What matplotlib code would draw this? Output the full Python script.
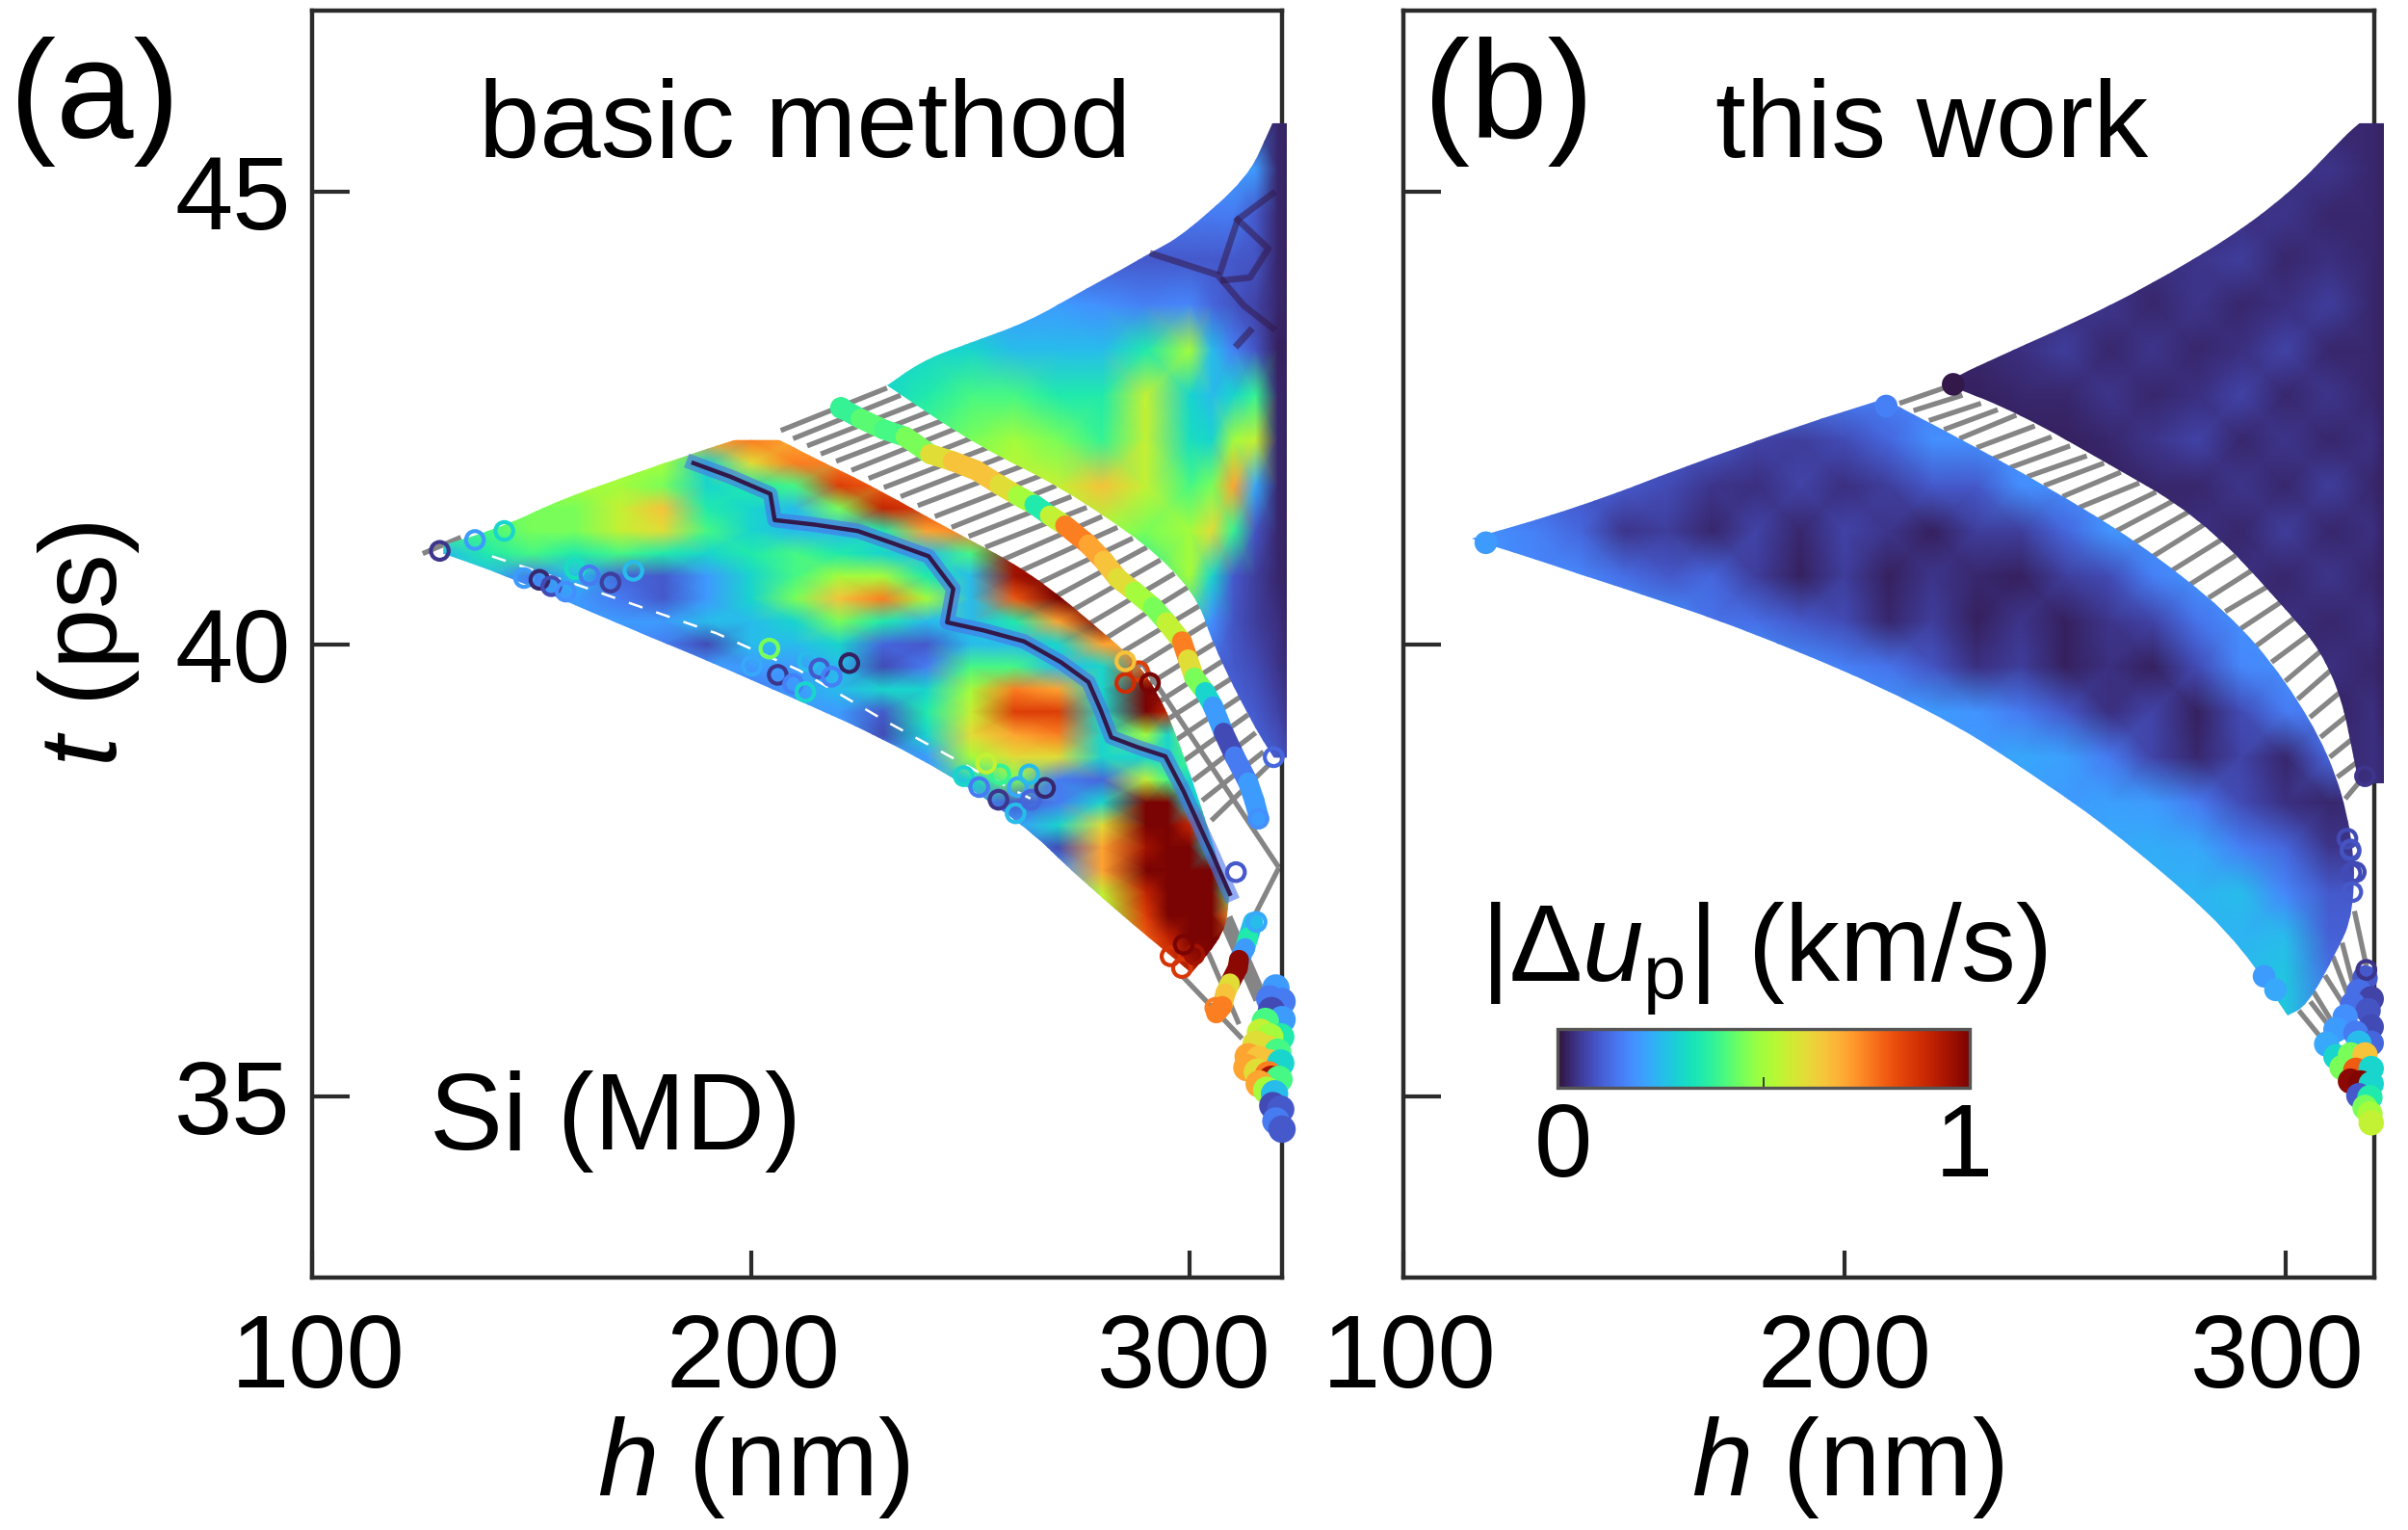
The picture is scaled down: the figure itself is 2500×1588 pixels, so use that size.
import numpy as np
import matplotlib
matplotlib.use("Agg")
import matplotlib.pyplot as plt
from matplotlib.patches import PathPatch
from matplotlib.path import Path
from matplotlib.collections import LineCollection
from matplotlib.cm import ScalarMappable
from matplotlib.colors import Normalize
from matplotlib.transforms import ScaledTranslation

plt.rcParams['font.family'] = ['Liberation Sans', 'DejaVu Sans']
plt.rcParams['mathtext.fontset'] = 'custom'
plt.rcParams['mathtext.rm'] = 'Liberation Sans'
plt.rcParams['mathtext.it'] = 'Liberation Sans:italic'
plt.rcParams['mathtext.default'] = 'regular'

# ---------- values; |du_p| in units of 0.1 km/s ----------
a_main_h = [130,140,150,160,170,180,190,200,210,220,230,240,250,260,270,280,290,295,300,305,310,315]
a_main_t = [42.25,42,41.75,41.5,41.25,41,40.75,40.5,40.25,40,39.75,39.5,39.25,39,38.75,38.5,38.25,38,37.75,37.5,37.25,37,36.75,36.5,36.25]
a_main_v = [
[5,5,5,5,5,5,7,7.5,7,7,7,7,7,7,7,7,7,7,7,7,7,7],
[5,5,5,5,5,5,3,6,7.5,7.5,7.5,7.5,7.5,7.5,7.5,7.5,7.5,7.5,7.5,7.5,7.5,7.5],
[5,5,5,5,5,4.5,3,3.5,4,8.5,8,8,8,8,8,8,8,8,8,8,8,8],
[4.5,4.5,4.5,4.5,5.5,6.5,3.5,3,2.5,4.5,9,8.5,8,8,8,8,8,8,8,8,8,8],
[4,4,4.5,4.5,5.5,6,4,3,2.5,2.5,3.5,7,7.5,7.5,7.5,7.5,7.5,7.5,7.5,7.5,7.5,7.5],
[2.5,3.5,4,3.5,4,3.5,3,3.5,4,3.5,3,2.5,4,9.5,9.5,9,9,9,9,9,9,9],
[2.5,2.5,1.5,2.5,1.2,1,2,3,4,5,5,3.5,2.5,9.5,10,9.5,9,9,9,9,9,9],
[2,2,2,2,1.5,1,2,3,4.5,6.5,7.5,5,2.5,8,10,10,8,8,8,8,8,8],
[2,2,2,2,2,2,2.5,2.5,3,4.5,3.5,2.5,2.5,3.5,7,10,8,8,8,8,8,8],
[2,2,2,2,2,1.5,.8,2.5,2.5,3,1.2,1,2.5,2.5,3,7,7,7,7,7,7,7],
[2,2,2,2,2,2,2,2,2,2.5,.8,1.5,4,4,2.5,3,8,8,8,8,8,8],
[2,2,2,2,2,2,2,1.5,2,2.5,3,3,5,7.5,7,3,10,10,8,8,8,8],
[2,2,2,2,2,2,2,2,2,2,1,3.5,5.5,8.5,8.5,3,10,9,4,4,4,4],
[2,2,2,2,2,2,2,2,2,2,.8,3,6,7,7.5,3,5,3,5,5,5,5],
[2,2,2,2,2,2,2,2,2,2,2,2,5,6,6,3,3,3,4,3,3,3],
[2,2,2,2,2,2,2,2,2,2,2,2,3,4.5,1.5,1.2,5.5,4,3,3,3,3],
[2,2,2,2,2,2,2,2,2,2,2,2,2,1,1.5,3,10,10,3,3,3,3],
[2,2,2,2,2,2,2,2,2,2,2,2,2,2,3,6,10,10,9,3,2,2],
[2,2,2,2,2,2,2,2,2,2,2,2,2,2,.8,7,9.5,10,10,3,2,2],
[2,2,2,2,2,2,2,2,2,2,2,2,2,2,2,7,10,10,10,10,3,2],
[2,2,2,2,2,2,2,2,2,2,2,2,2,2,2,5.5,9,10,10,10,4,4],
[2,2,2,2,2,2,2,2,2,2,2,2,2,2,2,5,8.5,10,10,10,7,7],
[2,2,2,2,2,2,2,2,2,2,2,2,2,2,2,5,8,9,10,10,10,10],
[2,2,2,2,2,2,2,2,2,2,2,2,2,2,2,5,8,8.5,9.5,10,10,10],
[2,2,2,2,2,2,2,2,2,2,2,2,2,2,2,5,8,8.5,8.5,8.5,8.5,8.5],
]
a_main_edge_h = [127,127,141,156.7,176,193.5,203,203,214.5,230.3,246,263.6,281,291,298.6,309,309,308,300.4,300.4,274,261.8,239,204,169,144.5]
a_main_edge_t = [41.05,41.05,41.25,41.6,41.93,42.22,42.34,42.34,42.05,41.68,41.25,40.8,40.1,39.65,38.8,37.2,37.2,36.8,36.36,36.36,37.44,38.03,38.75,39.53,40.24,40.75]

a_vein_h = [186.9,195.3,204.4,205.4,214.5,224.3,232,240.5,246.1,244.7,253.1,262.2,270.6,276.9,279.7,282.1,288.1,294.4,298.6,302.1,305.3,309.1]
a_vein_t = [42,41.85,41.66,41.37,41.32,41.25,41.12,40.97,40.61,40.24,40.15,40.03,39.8,39.58,39.27,38.97,38.86,38.76,38.37,38,37.66,37.24]

a_up_h = [230,240,250,260,270,280,290,300,305,310,315,320,323]
a_up_t = [45.75,45.25,44.75,44.25,43.75,43.25,42.75,42.25,41.75,41.25,40.75,40.25,39.75,39.25,38.75]
a_up_v = [
[.4,.4,.4,.4,.4,.4,.4,.4,.4,.4,.4,.3,.2],
[2,2,2,2,2,2,2,2,2,2,2,.3,.2],
[1.5,1.5,1.5,1.5,1.5,1.5,1.5,1.5,1.5,1.5,1,.3,.2],
[1,1,1,1,1,1,1,1,1,1,.9,.3,.2],
[2,2,2,2,2,1.8,1.6,1.7,1.2,.9,.7,.3,.2],
[3,3,3,2.5,2.5,2.5,3.5,5,2.5,1.6,.9,.2,.2],
[3,3.5,4,4,3.5,3.5,5.5,3,2.5,3,3.8,.3,.2],
[4,4,4.5,5,4.5,3.8,5.5,3.2,3,5,5.5,.3,.2],
[5,5,5,5.5,5.5,6.5,5.5,4,4.5,7,2.2,.3,.2],
[5,5,5,5,5,5,4.5,5,6,3.8,.9,.3,.2],
[3.5,3.5,3.5,3.5,3.5,3.5,3.5,5,3,1,.6,.3,.2],
[3,3,3,3,3,3,3,3,1.8,.9,.6,.4,.2],
[1.5,1.5,1.5,1.5,1.5,1.5,1.5,1.5,1.2,1,.8,.5,.3],
[1.5,1.5,1.5,1.5,1.5,1.5,1.5,1.5,1.5,1.2,1,.7,.4],
[1.5,1.5,1.5,1.5,1.5,1.5,1.5,1.5,1.5,1.5,1.2,1,.7],
]
a_up_edge_h = [231,231,238,248.5,263.2,276.2,291.6,299.6,313,317.9,319.6,322,322,322,322,320,320,314.4,305.3,301,290.2,271.6,251.3]
a_up_edge_t = [42.86,42.86,43.10,43.31,43.56,43.92,44.34,44.56,45.15,45.66,45.85,45.85,45.85,38.68,38.68,38.68,38.68,39.1,40,40.58,41.1,41.71,42.2]

a_lat1_h = [291.6,306.3,312.3,318.9]
a_lat1_t = [44.31,44.08,43.74,43.49]
a_lat2_h = [307,310.9,318.9]
a_lat2_t = [44.12,44.69,44.98]
a_lat3_h = [310.9,317.9,313.7,307.7]
a_lat3_t = [44.69,44.37,44.05,44.02]
a_lat4_h = [310.9,313.7]
a_lat4_t = [43.31,43.46]

a_rib_h = [220.5,225,230.3,235.2,240.8,246,251.3,256.6,260.8,264.6,268.1,271.6,276.9,280.4,283.5,287.4,291.6,294.7,298.2,299.6,301,303.5,305.3,307.7,310.2,313.3,314.7,315.8]
a_rib_t = [42.61,42.49,42.37,42.29,42.10,42.02,41.92,41.76,41.64,41.54,41.42,41.31,41.10,40.92,40.73,40.58,40.41,40.24,40.03,39.83,39.63,39.47,39.31,39.02,38.76,38.47,38.27,38.07]
a_rib_v = [3.8,4.2,4,4.5,6,6.5,6.5,6,5,3.5,5.5,7.5,7,6.5,6,5,4.5,5.5,7.5,6,4.5,3,2,.8,1.5,2,2,2]

a_low_h = [314.4,313.3,312.6,311.2,310.9,309.1,308.1,307.4,306]
a_low_t = [36.93,36.76,36.64,36.51,36.42,36.25,36.14,36,35.92]
a_low_v = [2.5,3.5,2,9.8,9.8,6,6.5,7.5,8]

a_clu_h = [319.6,318.2,321,318.6,321,317.2,316.1,320.7,318.2,315.1,317.6,320,313.3,315.8,318.2,320.7,313,315.4,317.9,318.6,320.3,315.8,317.5,319.3,318.9,320.7,319.6,321]
a_clu_t = [36.2,36.08,36.05,35.95,35.85,35.83,35.71,35.66,35.66,35.58,35.53,35.49,35.44,35.41,35.37,35.37,35.32,35.27,35.24,35.19,35.19,35.14,35.07,35.03,34.9,34.86,34.73,34.64]
a_clu_v = [2,1.5,1.5,.8,2,4,5.5,3.5,5,6,6,4,7,6.5,6.5,3,7,6,7.5,9.5,4,7,5,2.5,.8,1,1.5,1]

a_open_h = [129.1,137.1,143.8,148.3,151.8,154.5,157.8,159.9,163.2,168,173.2,200.2,206.1,209.6,212.4,213,215.6,218.4,222.4,204.2,248.5,252,256.4,260.3,260.8,263.8,267,256.8,253.6,263.4,288.4,285.3,285.3,290.9,310.5,315.2,315.6,319.1,298.2,295.6,301,298.6,305.8,220.5]
a_open_t = [41.03,41.15,41.25,40.73,40.71,40.64,40.58,40.83,40.76,40.68,40.81,39.76,39.66,39.56,39.47,39.81,39.73,39.64,39.79,39.95,38.54,38.42,38.28,38.13,38.42,38.28,38.41,38.56,38.68,38.56,39.7,39.57,39.81,39.57,37.48,36.93,38.07,38.75,36.42,36.55,36.57,36.68,35.98,42.61]
a_open_v = [.5,2,3,2,.3,.8,1.8,3.2,1.5,.6,2.5,2.2,.5,1.6,3,2.5,1,1.6,.2,4.5,3,1.5,.5,2.5,2.2,1.2,.3,3.8,5.5,2.5,8.5,8.8,6.5,10,1,2.2,1.8,1.2,8.6,8.7,9.5,10,7.5,3.8]

a_hatch = [
(206.8,42.36,231,42.83),(209.6,42.27,234.1,42.75),(212.8,42.19,237.7,42.66),(215.9,42.1,241.2,42.58),
(219.4,42.02,244.7,42.49),(222.9,41.92,248.2,42.41),(226.8,41.83,252,42.31),(230.3,41.73,255.5,42.2),
(234.1,41.63,259,42.1),(238,41.53,262.5,41.98),(241.9,41.41,266,41.86),(245.7,41.29,269.5,41.75),
(249.6,41.19,273,41.63),(253.4,41.07,276.5,41.51),(257.3,40.93,280,41.41),(261.1,40.8,283.5,41.29),
(265,40.66,287,41.17),(268.8,40.51,290.2,41.07),(272.7,40.36,293.3,40.93),(276.2,40.2,296.5,40.78),
(279.7,40.03,299.6,40.63),(282.8,39.86,302.1,40.42),(286,39.69,304.2,40.24),(289.1,39.51,306.3,40.03),
(291.6,39.32,308,39.83),(294,39.14,309.8,39.63),(296.5,38.93,311.6,39.42),(298.6,38.71,313.3,39.22),
(300.7,38.49,315,39.02),(302.8,38.27,316.8,38.81),(304.9,38.05,318.3,38.68),
(289.3,39.78,320.3,37.53),(320.3,37.53,314,36.93),(298.5,36.32,311.9,35.64),(304.2,36.59,311.2,35.8),
(125.2,41.0,133.9,41.18),
]
a_thick = [(308.1,36.97,316.1,36.08)]
a_dash_h = [141,161.3,192.1,211,231,251.3,264.6]
a_dash_t = [40.97,40.64,40.12,39.71,39.14,38.6,38.27]

# panel (b)
b_main_h = [110,120,130,140,150,160,170,180,190,200,210,220,230,240,250,260,270,280,290,300,310,320]
b_main_t = [42.75,42.25,41.75,41.25,40.75,40.25,39.75,39.25,38.75,38.25,37.75,37.25,36.75,36.25,35.75]
b_main_v = [
[1.6,1.6,1.6,1.6,1.6,1.6,1.6,1.6,1.6,1.6,1.6,1.6,1.6,1.6,1.6,1.6,1.6,1.6,1.6,1.6,1.6,1.6],
[1,1,1,1,1,1,1,.7,.6,.8,1.2,1.8,1.8,1.8,1.8,1.8,1.8,1.8,1.8,1.8,1.8,1.8],
[1,1,1,1,1,.8,.5,.4,.7,.4,.6,1,1,1.8,1.8,1.8,1.8,1.8,1.8,1.8,1.8,1.8],
[1.8,1.8,1.6,1.2,.5,.6,.3,.7,.3,.7,.5,.2,.6,.6,1.2,1.9,1.9,1.9,1.9,1.9,1.9,1.9],
[1.9,1.9,1.7,1.7,1.3,1,1.2,.6,.2,.6,.2,.5,.3,.2,.6,.8,1.6,1.9,1.9,1.9,1.9,1.9],
[1.9,1.9,1.9,1.9,1.9,1.9,1.4,1.3,1,.8,.3,.6,.2,.5,.2,.5,.7,1.4,1.8,1.8,1.8,1.8],
[2,2,2,2,2,2,2,2,1.8,1.6,1.4,.9,.4,.6,.2,.4,.2,.8,1.7,1.8,1.8,1.8],
[2,2,2,2,2,2,2,2,2,2,2,2,1.9,1.5,1,.4,.7,.2,.8,1.5,1.5,1.5],
[2,2,2,2,2,2,2,2,2,2,2,2,2,2.2,2.1,1.5,.7,.3,.7,.3,1.2,1.2],
[2,2,2,2,2,2,2,2,2,2,2,2,2,2,2,2.1,2,1.5,.8,.4,.3,.4],
[2,2,2,2,2,2,2,2,2,2,2,2,2,2,2,2.2,2.3,2.2,1.6,1.2,.5,.5],
[2,2,2,2,2,2,2,2,2,2,2,2,2,2,2,2.2,2.3,2.4,2.5,1.7,1,1],
[2,2,2,2,2,2,2,2,2,2,2,2,2,2,2,2.2,2.3,2.4,2.4,2.5,1.1,1.1],
[2,2,2,2,2,2,2,2,2,2,2,2,2,2,2,2.2,2.3,2.4,2.5,2.7,1.4,1.4],
[2,2,2,2,2,2,2,2,2,2,2,2,2,2,2,2.2,2.3,2.4,2.5,2.7,1.5,1.5],
]
b_main_edge_h = [115.5,115.5,139.4,163.8,191.3,209,209,225.4,245.8,266.2,286.8,300.3,310.1,315.5,315.7,311.5,304.9,300.5,300.5,287.5,265.7,243.9,218.5,177.5,150.2,127]
b_main_edge_t = [41.17,41.17,41.51,41.96,42.44,42.71,42.71,42.29,41.75,41.14,40.37,39.59,38.78,37.89,37.05,36.58,36,35.9,35.9,36.83,37.75,38.53,39.31,40.17,40.61,40.98]

b_up_h = [220,230,240,250,260,270,280,290,300,310,320,323]
b_up_t = [45.75,45.25,44.75,44.25,43.75,43.25,42.75,42.25,41.75,41.25,40.75,40.25,39.75,39.25,38.75,38.25]
b_up_v = [
[.3,.3,.3,.3,.3,.3,.3,.3,.3,.3,.3,.2],
[.3,.3,.3,.3,.3,.3,.3,.3,.4,.5,.3,.2],
[.3,.3,.3,.3,.3,.3,.3,.4,.5,.3,.3,.2],
[.3,.3,.3,.3,.3,.4,.5,.6,.3,.4,.3,.2],
[.3,.3,.3,.4,.5,.3,.5,.3,.4,.6,.3,.2],
[.3,.3,.4,.6,.3,.5,.3,.4,.7,.3,.3,.2],
[.2,.2,.3,.3,.5,.3,.4,.7,.3,.5,.3,.2],
[.2,.2,.2,.2,.3,.5,.7,.3,.5,.3,.4,.2],
[.2,.2,.2,.2,.2,.3,.3,.5,.3,.6,.3,.2],
[.2,.2,.2,.2,.2,.2,.4,.3,.6,.3,.4,.2],
[.2,.2,.2,.2,.2,.2,.2,.4,.3,.5,.3,.2],
[.2,.2,.2,.2,.2,.2,.2,.2,.4,.3,.4,.2],
[.2,.2,.2,.2,.2,.2,.2,.2,.2,.4,.3,.2],
[.2,.2,.2,.2,.2,.2,.2,.2,.2,.2,.4,.2],
[.3,.3,.3,.3,.3,.3,.3,.3,.3,.3,.4,.3],
[.3,.3,.3,.3,.3,.3,.3,.3,.3,.3,.4,.3],
]
b_up_edge_h = [222.6,222.6,234.5,251.9,269.3,286.8,300.7,311.1,317.1,320,322.3,322.3,322.3,322.3,316.7,316.7,311.5,297.7,280.1,259.6,240.4]
b_up_edge_t = [42.88,42.88,43.17,43.54,43.97,44.47,44.98,45.49,45.78,45.85,45.85,45.85,38.46,38.46,38.46,38.46,39.72,40.53,41.42,42,42.53]

b_clu_h = [318.1,316.7,319.5,315.3,318.8,313.6,319.5,311.5,316,309.4,319.5,316.7,311.5,314.8,318.1,312.9,316,319.5,314.8,317.1,319.5,316.7,319.2,318.1,319.2,319.5]
b_clu_t = [36.31,36.16,36.08,36.02,35.95,35.88,35.77,35.74,35.7,35.58,35.59,35.59,35.44,35.46,35.46,35.32,35.29,35.31,35.17,35.15,35.14,35.01,34.99,34.88,34.81,34.71]
b_clu_v = [1,1.3,.7,1.3,.9,1.8,.8,2,1.5,2.2,1.2,2.5,3,4.5,6.5,4.5,8,3,9.8,9.9,3,1,3.5,4.5,5,5.5]

b_tip_h = [118.7,224.7,209.5,295.2,297.8]
b_tip_t = [41.12,42.87,42.63,36.33,36.18]
b_tip_v = [2,.1,1.6,2,2.2]

b_open_h = [318.4,318.1,314.1,314.8,316,315,314.8,315.2]
b_open_t = [36.4,38.54,37.85,37.71,37.48,37.47,37.73,37.26]
b_open_v = [.5,.5,.8,.8,.8,.8,.9,1]

b_hatch = [
(212.5,42.66,222.6,42.83),(215.7,42.58,226.8,42.75),(219.2,42.47,231,42.66),(222.6,42.37,234.8,42.59),
(226.1,42.27,239,42.53),(230,42.17,243.2,42.41),(233.8,42.05,247,42.29),(237.6,41.95,251.2,42.19),
(241.5,41.85,255,42.08),(245.3,41.75,258.9,42),(249.5,41.63,262.7,41.9),(253.3,41.51,266.9,41.78),
(257.5,41.37,270.7,41.68),(261.7,41.25,274.5,41.58),(265.8,41.12,278.4,41.47),(270,40.97,282.2,41.34),
(274.2,40.81,285.4,41.15),(278.4,40.66,288.8,40.98),(282.6,40.51,292.3,40.81),(286.4,40.36,295.8,40.63),
(289.9,40.17,298.9,40.46),(293.4,39.98,302.1,40.29),(296.9,39.8,305.2,40.1),(300,39.59,308,39.92),
(302.8,39.39,310.8,39.73),(305.6,39.19,312.5,39.47),(308,38.97,314.3,39.22),(310.1,38.75,315.7,38.97),
(311.8,38.53,316.7,38.71),(313.6,38.29,317.4,38.51),
(315.7,37.05,318.4,36.44),(312.9,36.7,316,36.12),(310.8,36.55,314.8,36.05),(309,36.34,313.7,35.98),
(306.4,36.16,310.8,35.81),(303.1,35.95,308.3,35.64),(305.7,36.05,310.1,35.77),
]

x_ticks = [100,200,300]
y_ticks = [35,40,45]
cbar_ticks = [0,0.5,1]
cbar_labels = ['0','','1']

# ---------- drawing ----------
W, H = 2500, 1588
DPI = 200
cmap = plt.get_cmap('turbo')
norm = Normalize(0, 10)
GREY = '#858585'
fig = plt.figure(figsize=(12.5, 7.94), dpi=DPI)

def axes_px(l, r, t, b):
    return fig.add_axes([l/W, 1-b/H, (r-l)/W, (b-t)/H])

def outline_path(eh, et):
    v = np.c_[eh, et]
    n = len(v)
    mids = (v + np.roll(v, -1, axis=0))/2
    verts = [mids[-1]]
    codes = [Path.MOVETO]
    for i in range(n):
        verts += [v[i], mids[i]]
        codes += [Path.CURVE3, Path.CURVE3]
    return Path(verts, codes)

def field(ax, hs, ts, vs, eh, et):
    m = ax.pcolormesh(hs, ts, np.array(vs, float), cmap=cmap, norm=norm, shading='gouraud', zorder=3)
    m.set_clip_path(PathPatch(outline_path(eh, et), transform=ax.transData))
    m.set_clip_box(None)

def beads(ax, h, t, v, s=72, z=4):
    ax.scatter(h, t, c=v, cmap=cmap, norm=norm, s=s, linewidths=0, zorder=z, clip_on=False)

def ribbon(ax, h, t, v, lw=7.5, z=3.8):
    pts = np.c_[h, t]
    segs = np.stack([pts[:-1], pts[1:]], axis=1)
    lc = LineCollection(segs, colors=cmap(norm(np.array(v[:-1]))), linewidths=lw, capstyle='round', zorder=z)
    ax.add_collection(lc)

def rings(ax, h, t, v, s=44, z=5):
    ax.scatter(h, t, facecolors='none', edgecolors=cmap(norm(np.array(v))), s=s, linewidths=1.5, zorder=z, clip_on=False)

def hatch(ax, segs, lw=1.9):
    for h0, t0, h1, t1 in segs:
        ax.plot([h0, h1], [t0, t1], color=GREY, lw=lw, zorder=1, solid_capstyle='butt')

def vein(ax, h, t, wide, thin, a=1.0, z=3.4):
    if wide:
        ax.plot(h, t, color=cmap(norm(1.4)), lw=wide, alpha=.6, zorder=z, solid_joinstyle='round')
    ax.plot(h, t, color=cmap(norm(0.1)), lw=thin, alpha=a, zorder=z+.05, solid_joinstyle='round')

ax1 = axes_px(324, 1331, 11, 1326)
ax2 = axes_px(1457, 2465, 11, 1326)

def shift(lbl, px):
    lbl.set_transform(lbl.get_transform() + ScaledTranslation(px/DPI, 0, fig.dpi_scale_trans))

for ax, xr, off in ((ax1, 321, (6, 2, -6)), (ax2, 320.2, (6, 0, -8))):
    ax.set_xlim(100, xr)
    ax.set_ylim(33, 47)
    ax.set_xticks(x_ticks)
    ax.set_yticks(y_ticks)
    ax.tick_params(axis='x', direction='in', length=10, width=1.5, color='#2b2b2b', labelsize=39, pad=13)
    ax.tick_params(axis='y', direction='in', length=14, width=1.5, color='#2b2b2b', labelsize=39, pad=8)
    for s in ax.spines.values():
        s.set_linewidth(1.6)
        s.set_color('#2b2b2b')
    ax.set_xlabel(r'$\mathit{h}$ (nm)', fontsize=41)
    for lbl, px in zip(ax.get_xticklabels(), off):
        shift(lbl, px)
ax2.set_yticklabels([])
ax1.xaxis.set_label_coords(0.455, -0.108)
ax2.xaxis.set_label_coords(0.457, -0.108)
ax1.set_ylabel(r'$\mathit{t}$ (ps)', fontsize=41)
ax1.yaxis.set_label_coords(-0.176, 0.5)

# panel (a)
hatch(ax1, a_hatch)
hatch(ax1, a_thick, lw=5.5)
field(ax1, a_main_h, a_main_t, a_main_v, a_main_edge_h, a_main_edge_t)
field(ax1, a_up_h, a_up_t, a_up_v, a_up_edge_h, a_up_edge_t)
vein(ax1, a_vein_h, a_vein_t, 5.5, 1.6)
vein(ax1, a_lat1_h, a_lat1_t, 0, 2.4, a=.55)
vein(ax1, a_lat2_h, a_lat2_t, 0, 2.4, a=.55)
vein(ax1, a_lat3_h, a_lat3_t, 0, 2.4, a=.55)
vein(ax1, a_lat4_h, a_lat4_t, 0, 2.6, a=.55)
ribbon(ax1, a_rib_h, a_rib_t, a_rib_v)
ribbon(ax1, a_low_h, a_low_t, a_low_v)
beads(ax1, a_clu_h, a_clu_t, a_clu_v, s=105)
ax1.plot(a_dash_h, a_dash_t, color='white', lw=0.9, dashes=(6, 6), zorder=4.5)
rings(ax1, a_open_h, a_open_t, a_open_v)

# panel (b)
hatch(ax2, b_hatch)
field(ax2, b_main_h, b_main_t, b_main_v, b_main_edge_h, b_main_edge_t)
field(ax2, b_up_h, b_up_t, b_up_v, b_up_edge_h, b_up_edge_t)
beads(ax2, b_tip_h, b_tip_t, b_tip_v)
beads(ax2, b_clu_h, b_clu_t, b_clu_v, s=90)
rings(ax2, b_open_h, b_open_t, b_open_v)

# texts (positions in reference pixels of the 1568-wide view)
def label(x, y, s, size):
    fig.text(x/1568, 1-y/996, s, fontsize=size, va='baseline', ha='left', color='black')
label(6, 90, '(a)', 52)
label(927, 90, '(b)', 52)
label(312, 102, 'basic method', 41)
label(1117, 102, 'this work', 41)
label(280, 748, 'Si (MD)', 41)
label(964, 639, '|Δ' + r'$\mathit{u}_{p}$' + '| (km/s)', 41)

# colour bar
cax = axes_px(1617, 2045, 1068, 1129)
cb = fig.colorbar(ScalarMappable(norm=Normalize(0, 1), cmap=cmap), cax=cax, orientation='horizontal')
cb.set_ticks(cbar_ticks)
cb.set_ticklabels(cbar_labels)
cb.ax.tick_params(direction='in', length=4, width=0.6, labelsize=39, pad=5, color='#222222')
cb.outline.set_linewidth(1.2)
cb.outline.set_edgecolor('#555555')
for lbl, px in zip(cb.ax.get_xticklabels(), (6, 0, -6)):
    shift(lbl, px)

fig.savefig('out.png', dpi=DPI, facecolor='white')
